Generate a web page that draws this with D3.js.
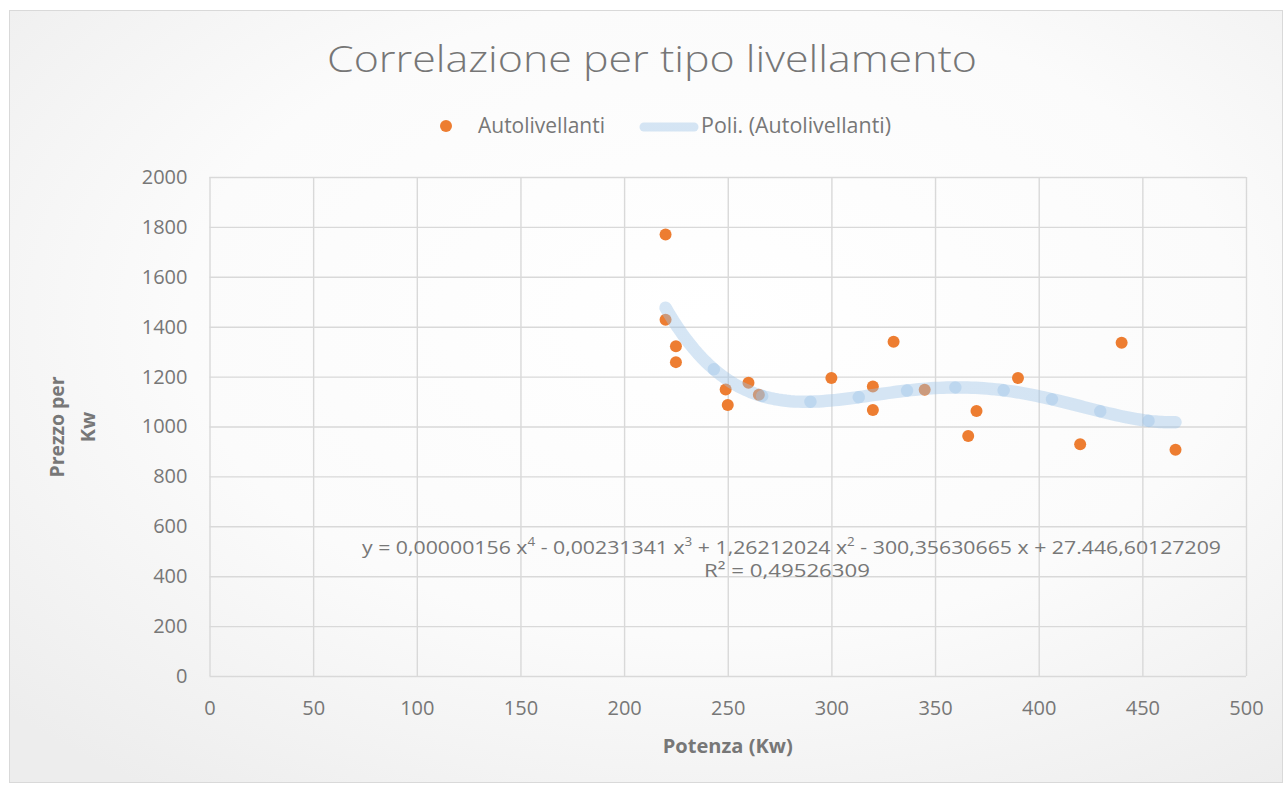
<!DOCTYPE html>
<html><head><meta charset="utf-8">
<script src="https://cdn.jsdelivr.net/npm/d3@7"></script>
<style>
html,body{margin:0;padding:0;background:#fff;}
text{font-family:"Open Sans","Noto Sans",sans-serif;}
</style></head>
<body>
<svg id="chart" width="1285" height="786"></svg>
<script>
// ---- data ----
const seriesName = "Autolivellanti";
const trendName = "Poli. (Autolivellanti)";
const powerKw    = [220, 220, 225, 225, 249, 250, 260, 265, 300, 320, 320, 330, 345, 366, 370, 390, 420, 440, 466];
const pricePerKw = [1770,1428,1322,1258,1148,1086,1175,1127,1194,1160,1066,1340,1147, 962,1062,1194, 929,1336, 907];
// polynomial trendline coefficients (c0 + c1 x + c2 x^2 + c3 x^3 + c4 x^4), as displayed
const trendCoefs = [27446.60127209, -300.35630665, 1.26212024, -0.00231341, 0.00000156];
const xTicks = [0, 50, 100, 150, 200, 250, 300, 350, 400, 450, 500];
const yTicks = [0, 200, 400, 600, 800, 1000, 1200, 1400, 1600, 1800, 2000];
const titleText = "Correlazione per tipo livellamento";
const xTitle = "Potenza (Kw)";
const yTitleLines = ["Prezzo per", "Kw"];
const r2Text = "R² = 0,49526309";

// ---- layout ----
const svg = d3.select("#chart");
const L = 209.5, R = 1246, T = 177, B = 676;
const x = d3.scaleLinear().domain([0, 500]).range([L, R]);
const y = d3.scaleLinear().domain([0, 2000]).range([B, T]);
const textCol = "#777777";

const defs = svg.append("defs");
const grad = defs.append("radialGradient").attr("id", "bg")
  .attr("cx", "55%").attr("cy", "40%").attr("r", "75%");
grad.append("stop").attr("offset", "0%").attr("stop-color", "#ffffff");
grad.append("stop").attr("offset", "55%").attr("stop-color", "#fbfbfb");
grad.append("stop").attr("offset", "100%").attr("stop-color", "#ededed");

svg.append("rect").attr("x", 9.5).attr("y", 10.5).attr("width", 1273).attr("height", 772)
  .attr("fill", "url(#bg)").attr("stroke", "#d9d9d9").attr("stroke-width", 1);

// title
svg.append("text").attr("x", 652).attr("y", 72).attr("text-anchor", "middle")
  .attr("font-size", 37).attr("font-weight", 300).attr("fill", "#767676")
  .attr("textLength", 650).attr("lengthAdjust", "spacingAndGlyphs")
  .text(titleText);

// legend
svg.append("circle").attr("cx", 446).attr("cy", 126).attr("r", 6).attr("fill", "#ed7d31");
svg.append("text").attr("x", 478).attr("y", 133).attr("font-size", 21).attr("fill", textCol)
  .attr("textLength", 127).attr("lengthAdjust", "spacingAndGlyphs").text(seriesName);
svg.append("line").attr("x1", 644).attr("x2", 694).attr("y1", 127).attr("y2", 127)
  .attr("stroke", "#9dc3e6").attr("stroke-opacity", 0.42).attr("stroke-width", 9).attr("stroke-linecap", "round");
svg.append("text").attr("x", 701).attr("y", 133).attr("font-size", 21).attr("fill", textCol)
  .attr("textLength", 190).attr("lengthAdjust", "spacingAndGlyphs").text(trendName);

// grid + axes
const gx = svg.append("g").attr("transform", `translate(0,${B})`)
  .call(d3.axisBottom(x).tickValues(xTicks).tickFormat(d3.format("d")).tickSize(-(B - T)).tickPadding(25));
const gy = svg.append("g").attr("transform", `translate(${L},0)`)
  .call(d3.axisLeft(y).tickValues(yTicks).tickFormat(d3.format("d")).tickSize(-(R - L)).tickPadding(22));
[gx, gy].forEach(g => {
  g.select(".domain").remove();
  g.selectAll(".tick line").attr("stroke", "#d9d9d9").attr("stroke-width", 1.4);
  g.selectAll(".tick text").attr("fill", textCol).attr("font-size", 20)
    .attr("font-family", "'Open Sans', sans-serif");
});

// axis titles
svg.append("text").attr("x", (L + R) / 2).attr("y", 753).attr("text-anchor", "middle")
  .attr("font-size", 20).attr("font-weight", 700).attr("fill", textCol)
  .attr("textLength", 130).attr("lengthAdjust", "spacingAndGlyphs").text(xTitle);
const yt = svg.append("text").attr("transform", "translate(0,427) rotate(-90)")
  .attr("text-anchor", "middle").attr("font-size", 20).attr("font-weight", 700).attr("fill", textCol);
yt.append("tspan").attr("x", 0).attr("y", 64).attr("textLength", 101).attr("lengthAdjust", "spacingAndGlyphs").text(yTitleLines[0]);
yt.append("tspan").attr("x", 0).attr("y", 95).text(yTitleLines[1]);

// scatter markers
const pts = powerKw.map((p, i) => [p, pricePerKw[i]]);
svg.append("g").selectAll("circle").data(pts).join("circle")
  .attr("cx", d => x(d[0])).attr("cy", d => y(d[1])).attr("r", 6)
  .attr("fill", "#ed7d31");

// polynomial trendline, drawn as overlapping translucent segments
const poly = v => trendCoefs.reduce((s, c, k) => s + c * Math.pow(v, k), 0);
const xMin = d3.min(powerKw), xMax = d3.max(powerKw);
const segStep = 23.3;
const breaks = [];
for (let v = xMin; v < xMax - 0.01; v += segStep) breaks.push(v);
breaks.push(xMax);
const lineGen = d3.line().x(d => x(d)).y(d => y(poly(d)));
const tg = svg.append("g");
for (let i = 0; i < breaks.length - 1; i++) {
  const a = breaks[i], b = breaks[i + 1];
  const samples = d3.range(0, 13).map(k => a + (b - a) * k / 12);
  tg.append("path").attr("d", lineGen(samples)).attr("fill", "none")
    .attr("stroke", "#9dc3e6").attr("stroke-opacity", 0.42).attr("stroke-width", 12.5)
    .attr("stroke-linecap", "round").attr("stroke-linejoin", "round");
}

// equation label
const fmt = v => {
  const s = Math.abs(v).toFixed(8).split(".");
  const intPart = s[0].replace(/\B(?=(\d{3})+(?!\d))/g, ".");
  return intPart + "," + s[1];
};
const eq = svg.append("text").attr("x", 791.5).attr("y", 554).attr("text-anchor", "middle")
  .attr("font-size", 19).attr("fill", textCol)
  .attr("textLength", 859).attr("lengthAdjust", "spacingAndGlyphs");
eq.append("tspan").text("y = " + fmt(trendCoefs[4]) + " x");
eq.append("tspan").attr("font-size", 12).attr("dy", -8).text("4");
eq.append("tspan").attr("dy", 8).text(" " + (trendCoefs[3] < 0 ? "-" : "+") + " " + fmt(trendCoefs[3]) + " x");
eq.append("tspan").attr("font-size", 12).attr("dy", -8).text("3");
eq.append("tspan").attr("dy", 8).text(" " + (trendCoefs[2] < 0 ? "-" : "+") + " " + fmt(trendCoefs[2]) + " x");
eq.append("tspan").attr("font-size", 12).attr("dy", -8).text("2");
eq.append("tspan").attr("dy", 8).text(" " + (trendCoefs[1] < 0 ? "-" : "+") + " " + fmt(trendCoefs[1]) + " x " + (trendCoefs[0] < 0 ? "-" : "+") + " " + fmt(trendCoefs[0]));
svg.append("text").attr("x", 787).attr("y", 577).attr("text-anchor", "middle")
  .attr("font-size", 19).attr("fill", textCol)
  .attr("textLength", 166).attr("lengthAdjust", "spacingAndGlyphs").text(r2Text);
</script>
</body></html>
